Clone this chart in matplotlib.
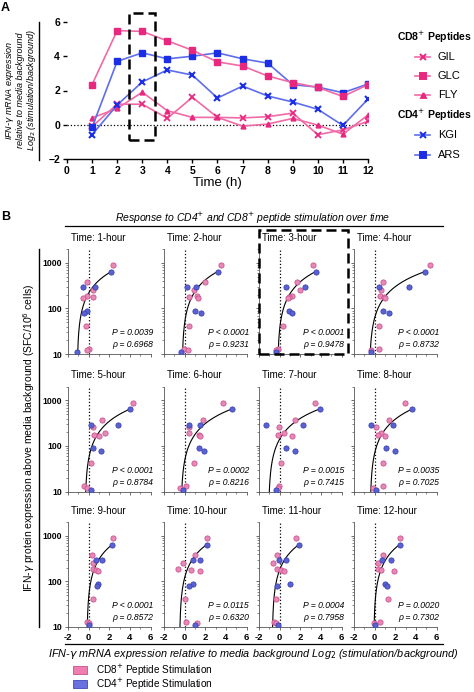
import numpy as np
import matplotlib.pyplot as plt
from matplotlib.patches import Rectangle
from matplotlib.lines import Line2D
from matplotlib.ticker import LogLocator, NullFormatter, MultipleLocator, FixedLocator

plt.rcParams['font.family'] = ['Liberation Sans', 'DejaVu Sans']

# ---------------- panel A data ----------------
hours = [1, 2, 3, 4, 5, 6, 7, 8, 9, 10, 11, 12]
gil = [-0.1, 1.2, 1.2, 0.38, 1.6, 0.43, 0.4, 0.47, 0.68, -0.58, -0.3, 0.2]
glc = [2.35, 5.5, 5.45, 4.9, 4.35, 3.67, 3.43, 2.85, 2.46, 2.18, 1.65, 2.34]
fly = [0.4, 0.95, 1.9, 0.82, 0.43, 0.43, -0.08, 0.04, 0.37, -0.02, -0.55, 0.57]
kgi = [-0.58, 1.15, 2.5, 3.2, 2.9, 1.56, 2.26, 1.68, 1.33, 0.9, -0.04, 1.5]
ars = [-0.15, 3.7, 4.2, 3.85, 4.0, 4.2, 3.85, 3.6, 2.34, 2.2, 1.87, 2.38]

# ---------------- panel B data ----------------
# protein (SFC/10^6 cells), same donors/peptides at every time point
prot_cd8 = [890, 380, 260, 190, 177, 170, 42, 13, 12]
prot_cd4 = [650, 293, 293, 90, 78, 11]

# mRNA log2 fold change per time point
mrna_cd8 = [
    [2.37, -0.13, 0.4, -0.18, 0.46, -0.57, -0.22, 0.07, -0.13],
    [3.5, 1.98, 0.94, 1.17, 0.46, 1.33, 0.43, -0.06, 0.3],
    [3.2, 1.72, 1.94, 1.2, 0.91, 0.8, 0.28, -0.13, -0.36],
    [5.4, 0.82, 0.6, 0.5, 0.91, 1.0, 0.4, 0.43, -0.4],
    [4.34, 1.33, 0.46, 1.59, 0.55, 0.98, 0.2, -0.45, -0.13],
    [3.76, 1.82, 0.46, 0.46, 1.4, 1.5, 0.91, 0.1, -0.45],
    [3.45, 1.46, -0.05, 0.4, -0.2, 1.2, 0.18, -0.05, -0.14],
    [2.9, 1.37, 0.18, 0.66, 0.28, 0.98, 0.82, 0.86, -0.2],
    [2.4, 0.3, 0.4, 0.46, 0.72, 0.94, 0.46, -0.13, 0.07],
    [2.15, 1.01, -0.13, -0.61, 0.59, 1.5, 0.04, 0.14, 1.23],
    [1.56, -0.3, -0.63, -0.3, 0.18, 0.43, -0.37, -0.53, -0.4],
    [2.42, 0.82, 0.3, 0.28, 0.57, 1.85, 1.3, 0.5, -0.05],
]
mrna_cd4 = [
    [2.2, -0.54, 0.62, -0.13, -0.45, -1.1],
    [3.2, 0.26, 1.11, 1.01, 1.56, -0.38],
    [3.5, 0.57, 2.49, 0.88, 1.24, -0.4],
    [4.9, 0.4, 3.29, 0.82, 1.39, -0.4],
    [4.02, 0.23, 2.88, 0.46, 1.2, 0.2],
    [4.57, 0.43, 1.5, 1.4, 1.91, -0.18],
    [3.87, -1.36, 2.26, 0.6, 1.46, -0.39],
    [3.64, -0.37, 1.78, 1.08, 1.97, 0.18],
    [2.3, 0.69, 1.27, 0.88, 0.84, 0.04],
    [2.15, 0.84, 1.5, 0.79, 0.4, 1.01],
    [1.88, -0.05, 0.6, 0.98, -0.24, -0.2],
    [2.42, 0.76, 1.62, 1.05, 1.24, 0.02],
]
# regression line: x where it crosses 10 SFC, and where it ends
fit_x_start = [-1.06, -0.2, -0.14, -0.43, -0.28, -0.28, -1.0, -0.37, -0.13, -0.45, -0.68, -0.05]
fit_x_end = [2.2, 3.2, 3.5, 4.9, 4.02, 4.57, 3.87, 3.64, 2.3, 2.15, 1.88, 2.42]
fit_y_end = [650] * 12

p_text = ['P = 0.0039', 'P < 0.0001', 'P < 0.0001', 'P < 0.0001',
          'P < 0.0001', 'P = 0.0002', 'P = 0.0015', 'P = 0.0035',
          'P < 0.0001', 'P = 0.0115', 'P = 0.0004', 'P = 0.0020']
rho_text = ['0.6968', '0.9231', '0.9478', '0.8732', '0.8784', '0.8216',
            '0.7415', '0.7025', '0.8572', '0.6320', '0.7958', '0.7302']
x_ticks_b = [-2, 0, 2, 4, 6]

W, H = 474, 692
PINK = '#E8287F'
PINK_L = '#F06AA6'
BLUE = '#1B2EE6'
BLUE_L = '#5E6EEA'
B_PINK = '#E58AB6'
B_PINK_E = '#CF5390'
B_BLUE = '#5A62D2'
B_BLUE_E = '#3A42B5'

fig = plt.figure(figsize=(W / 100, H / 100), dpi=100)


def fx(px):
    return px / W


def fy(py):
    return 1 - py / H


# ---------------- panel A ----------------
axA = fig.add_axes([fx(67), fy(159), fx(368) - fx(67), fy(22) - fy(159)])
axA.axhline(0, color='k', ls=':', lw=0.9)
lw = 1.2
axA.plot(hours, gil, color=PINK_L, lw=lw, marker='x', ms=4.5, mec=PINK, mew=1.3, zorder=3)
axA.plot(hours, fly, color=PINK_L, lw=lw, marker='^', ms=3.5, mfc=PINK, mec=PINK, zorder=3)
axA.plot(hours, kgi, color=BLUE_L, lw=lw, marker='x', ms=4.5, mec=BLUE, mew=1.5, zorder=3)
axA.plot(hours, ars, color=BLUE_L, lw=lw, marker='s', ms=3.8, mfc=BLUE, mec=BLUE, zorder=4)
axA.plot(hours, glc, color=PINK_L, lw=lw, marker='s', ms=3.8, mfc=PINK, mec=PINK, zorder=4)
axA.set_xlim(0, 12)
axA.set_ylim(-2, 6)
axA.set_xticks(range(0, 13))
axA.set_yticks([-2, 0, 2, 4, 6])
for s in ['top', 'right', 'left']:
    axA.spines[s].set_visible(False)
axA.spines['bottom'].set_linewidth(1.0)
axA.tick_params(axis='both', direction='out', length=3, width=1.0, labelsize=7.5, pad=2)
for t in axA.get_xticklabels() + axA.get_yticklabels():
    t.set_fontweight('bold')
axA.set_xlabel('Time (h)', fontsize=9.5, labelpad=1)
axA.add_patch(Rectangle((2.47, -0.9), 1.03, 7.4, fill=False, ls=(0, (4, 2)),
                        lw=1.8, ec='k', clip_on=False, zorder=5))

# y label A with side bar
fig.text(fx(10), fy(90), 'IFN-$\\gamma$ mRNA expression', rotation=90, ha='center', va='center',
         fontsize=6.5, style='italic')
fig.text(fx(21), fy(90), 'relative to media background', rotation=90, ha='center', va='center',
         fontsize=6.5, style='italic')
fig.text(fx(32), fy(90), 'Log$_2$ (stimulation/background)', rotation=90, ha='center', va='center',
         fontsize=6.5, style='italic')
fig.add_artist(Line2D([fx(39), fx(39)], [fy(22), fy(160)], color='k', lw=1.0))
fig.text(fx(1), fy(8), 'A', fontsize=9, fontweight='bold', va='center')

# legend A
fig.text(fx(397), fy(37), 'CD8$^{+}$ Peptides', fontsize=7.5, fontweight='bold', va='center')
fig.text(fx(397), fy(115), 'CD4$^{+}$ Peptides', fontsize=7.5, fontweight='bold', va='center')
leg_items = [('GIL', 57, PINK_L, PINK, 'x'), ('GLC', 76, PINK_L, PINK, 's'),
             ('FLY', 95, PINK_L, PINK, '^'), ('KGI', 135, BLUE_L, BLUE, 'x'),
             ('ARS', 155, BLUE_L, BLUE, 's')]
for name, py, lc, mc, mk in leg_items:
    fig.add_artist(Line2D([fx(415), fx(430)], [fy(py), fy(py)], color=lc, lw=1.2))
    fig.add_artist(Line2D([fx(422.5)], [fy(py)], marker=mk, ms=4 if mk != '^' else 3.5,
                          mfc=mc, mec=mc, mew=1.4, ls='none'))
    fig.text(fx(438), fy(py), name, fontsize=8, va='center')

# ---------------- panel B ----------------
fig.text(fx(1), fy(217), 'B', fontsize=9, fontweight='bold', va='center')
fig.text(fx(253), fy(218), 'Response to CD4$^{+}$ and CD8$^{+}$ peptide stimulation over time',
         fontsize=7.5, style='italic', ha='center', va='center')
fig.add_artist(Line2D([fx(65), fx(443)], [fy(226), fy(226)], color='k', lw=0.9))

col_left = [68, 164, 259, 354]
row_bottom = [354, 491.5, 627]
aw, ah = 82.5, 104.7
for k in range(12):
    r, c = divmod(k, 4)
    ax = fig.add_axes([fx(col_left[c]), fy(row_bottom[r]), aw / W, ah / H])
    ax.set_yscale('log')
    ax.set_xlim(-2, 6)
    ax.set_ylim(10, 2000)
    ax.axvline(0, color='k', ls=':', lw=0.9)
    # straight regression line (linear y), seen through the log axis
    slope = (fit_y_end[k] - 10) / (fit_x_end[k] - fit_x_start[k])
    xc = np.linspace(fit_x_start[k], fit_x_end[k], 200)
    ax.plot(xc, 10 + slope * (xc - fit_x_start[k]), color='k', lw=0.8, zorder=2)
    ax.scatter(mrna_cd8[k], prot_cd8, s=14, color=B_PINK, edgecolors=B_PINK_E, linewidths=0.6, zorder=3)
    ax.scatter(mrna_cd4[k], prot_cd4, s=14, color=B_BLUE, edgecolors=B_BLUE_E, linewidths=0.6, zorder=3)
    for s in ['top', 'right']:
        ax.spines[s].set_visible(False)
    for s in ['left', 'bottom']:
        ax.spines[s].set_linewidth(0.6)
        ax.spines[s].set_color('#555555')
    ax.yaxis.set_major_locator(FixedLocator([10, 100, 1000]))
    ax.yaxis.set_minor_locator(LogLocator(base=10, subs=range(2, 10)))
    ax.yaxis.set_minor_formatter(NullFormatter())
    ax.xaxis.set_major_locator(FixedLocator(x_ticks_b))
    ax.xaxis.set_minor_locator(MultipleLocator(1))
    ax.tick_params(axis='both', which='major', direction='out', length=2.5, width=0.6,
                   color='#555555', pad=1.5)
    ax.tick_params(axis='y', labelsize=6.2)
    ax.tick_params(axis='x', labelsize=6.8)
    ax.tick_params(axis='both', which='minor', direction='out', length=1.3, width=0.5,
                   color='#555555')
    if c == 0:
        ax.set_yticklabels(['10', '100', '1000'])
    else:
        ax.set_yticklabels([])
    if r == 2:
        ax.set_xticklabels([str(v) for v in x_ticks_b])
    else:
        ax.set_xticklabels([])
    for t in ax.get_xticklabels() + ax.get_yticklabels():
        t.set_fontweight('bold')
    ax.text(0.036, 1 + 11.4 / ah, 'Time: %d-hour' % (k + 1), transform=ax.transAxes,
            fontsize=7, ha='left', va='center')
    ax.text(1.03, 0.204, p_text[k], transform=ax.transAxes, fontsize=6.2, style='italic',
            ha='right', va='center')
    ax.text(1.03, 0.086, '\u03c1 = ' + rho_text[k], transform=ax.transAxes, fontsize=6.2,
            style='italic', ha='right', va='center')

# dashed box around 3-hour panel
fig.add_artist(Rectangle((fx(259), fy(354)), (347.7 - 259) / W, (354 - 230) / H, fill=False,
                         ls=(0, (4, 2)), lw=1.8, ec='k', transform=fig.transFigure))

# shared labels for B
fig.text(fx(29), fy(438), 'IFN-$\\gamma$ protein expression above media background (SFC/10$^{6}$ cells)',
         rotation=90, ha='center', va='center', fontsize=7.5)
fig.add_artist(Line2D([fx(39), fx(39)], [fy(249), fy(627)], color='k', lw=1.0))
fig.add_artist(Line2D([fx(65), fx(443)], [fy(644), fy(644)], color='k', lw=0.9))
fig.text(fx(253), fy(654),
         'IFN-$\\gamma$ mRNA expression relative to media background Log$_2$ (stimulation/background)',
         ha='center', va='center', fontsize=7.8, style='italic')

# bottom legend
fig.add_artist(Rectangle((fx(73), fy(674)), 14 / W, 8 / H, fc='#F07DB0', ec='#C85088', lw=0.6,
                         transform=fig.transFigure))
fig.add_artist(Rectangle((fx(73), fy(688)), 14 / W, 8 / H, fc='#6A70E0', ec='#4048B8', lw=0.6,
                         transform=fig.transFigure))
fig.text(fx(96), fy(670), 'CD8$^{+}$ Peptide Stimulation', fontsize=7.2, va='center')
fig.text(fx(96), fy(684), 'CD4$^{+}$ Peptide Stimulation', fontsize=7.2, va='center')

fig.savefig('out.png', dpi=100)
